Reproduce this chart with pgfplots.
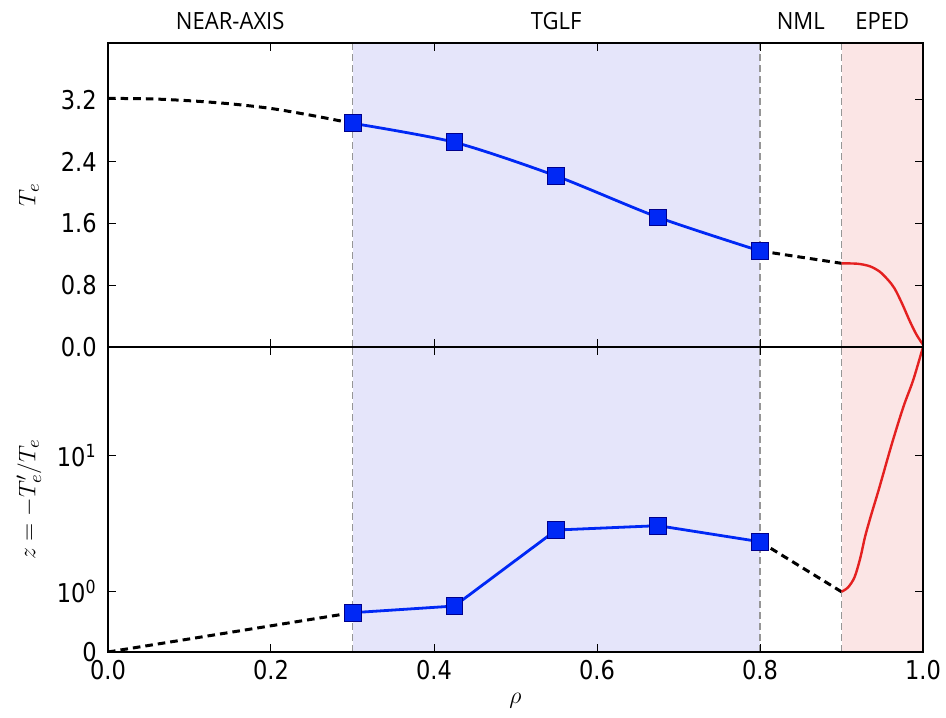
\documentclass[border=0pt]{standalone}
\usepackage{pgfplots}
\pgfplotsset{compat=1.18}
\usepackage{fontspec}
\setmainfont{DejaVu Sans}[FakeStretch=0.87]
\newfontfamily\toplab{Open Sans}[FakeStretch=0.93]
\definecolor{tglf}{RGB}{229,229,250}
\definecolor{eped}{RGB}{251,229,229}
\definecolor{vline}{RGB}{150,150,150}
\definecolor{myblue}{RGB}{0,40,245}
\definecolor{myred}{RGB}{228,32,32}
\begin{document}
\begin{tikzpicture}
\useasboundingbox (-54bp,-33bp) rectangle (419bp,326bp);
\pgfplotsset{
  base/.style={
    scale only axis, width=407.5bp,
    xmin=0, xmax=1,
    xtick={0,0.2,0.4,0.6,0.8,1},
    tick align=inside,
    tick pos=both,
    xticklabel pos=lower, yticklabel pos=left,
    major tick length=4bp,
    every tick/.style={black, line width=0.5bp},
    axis line style={black, line width=0.6bp},
    tick label style={font=\fontsize{13}{15}\selectfont},
    yticklabel style={inner sep=0pt, xshift=-5.5bp},
    xticklabel style={inner sep=0pt, yshift=-4bp},
    label style={font=\fontsize{12.5}{15}\selectfont},
    ylabel style={at={(axis description cs:-0.097,0.5)}, anchor=center},
    axis on top,
  },
  vl/.style={vline, line width=0.9bp, dash pattern=on 3.5bp off 2bp},
  bd/.style={black, line width=1.5bp, dash pattern=on 3.8bp off 2.5bp},
  bl/.style={myblue, line width=1.4bp, mark=square*, mark size=4.2bp,
    mark options={solid, fill=myblue, draw=blue!55!black, line width=0.4bp}},
  rd/.style={myred, line width=1.2bp},
}
% bottom axis: symlog scale (linthresh 1); values stored in display units:
% 0..1 linear over 0.443 units, then one unit per decade
\begin{axis}[base, at={(0,0)}, anchor=south west, height=152.5bp,
  ymin=0, ymax=2.243,
  ytick={0,0.443,1.443},
  yticklabels={0,10\textsuperscript{0},10\textsuperscript{1}},
  xticklabels={0.0,0.2,0.4,0.6,0.8,1.0},
  xlabel={$\rho$},
  xlabel style={at={(axis description cs:0.5,-0.158)}, anchor=center},
  ylabel={$z = -T_e'/T_e$},
]
\addplot[draw=none, fill=tglf] coordinates {(0.3,2.243) (0.8,2.243)} \closedcycle;
\addplot[draw=none, fill=eped] coordinates {(0.9,2.243) (1.0,2.243)} \closedcycle;
\addplot[vl] coordinates {(0.3,0) (0.3,2.243)};
\addplot[vl] coordinates {(0.8,0) (0.8,2.243)};
\addplot[vl] coordinates {(0.9,0) (0.9,2.243)};
\addplot[bd] coordinates {(0,0) (0.3,0.289)};
\addplot[bd] coordinates {(0.8,0.811) (0.9,0.443)};
\addplot[bl] coordinates {(0.3,0.289) (0.425,0.338) (0.55,0.897) (0.675,0.929) (0.8,0.811)};
\addplot[rd, smooth, tension=0.5] coordinates {(0.9,0.443) (0.908,0.475) (0.916,0.55) (0.923,0.69) (0.929,0.85) (0.936,1.0) (0.946,1.2) (0.962,1.535) (0.976,1.804) (0.988,2.0) (1.0,2.243)};
\end{axis}
% top axis
\begin{axis}[base, at={(0,152.5bp)}, anchor=south west, height=152bp,
  ymin=0, ymax=3.938,
  ytick={0,0.8,1.6,2.4,3.2},
  yticklabels={0.0,0.8,1.6,2.4,3.2},
  xticklabel=\empty,
  ylabel={$T_e$},
  extra description/.code={
    \begin{scope}[font=\toplab\fontsize{11.9}{14}\selectfont]
    \node[anchor=base] at (axis description cs:0.15,1.045) {NEAR-AXIS};
    \node[anchor=base] at (axis description cs:0.55,1.045) {TGLF};
    \node[anchor=base] at (axis description cs:0.85,1.045) {NML};
    \node[anchor=base] at (axis description cs:0.95,1.045) {EPED};
    \end{scope}
  },
]
\addplot[draw=none, fill=tglf] coordinates {(0.3,3.938) (0.8,3.938)} \closedcycle;
\addplot[draw=none, fill=eped] coordinates {(0.9,3.938) (1.0,3.938)} \closedcycle;
\addplot[vl] coordinates {(0.3,0) (0.3,3.938)};
\addplot[vl] coordinates {(0.8,0) (0.8,3.938)};
\addplot[vl] coordinates {(0.9,0) (0.9,3.938)};
\addplot[bd, smooth] coordinates {(0,3.22) (0.05,3.215) (0.1,3.19) (0.15,3.15) (0.2,3.09) (0.25,3.00) (0.3,2.898)};
\addplot[bd] coordinates {(0.8,1.244) (0.9,1.084)};
\addplot[bl, smooth, tension=0.45] coordinates {(0.3,2.898) (0.425,2.652) (0.55,2.215) (0.675,1.680) (0.8,1.244)};
\addplot[rd, smooth, tension=0.5] coordinates {(0.9,1.084) (0.92,1.078) (0.935,1.045) (0.947,0.975) (0.957,0.87) (0.965,0.76) (0.974,0.57) (0.984,0.33) (0.992,0.16) (1.0,0.03)};
\end{axis}
\end{tikzpicture}
\end{document}
